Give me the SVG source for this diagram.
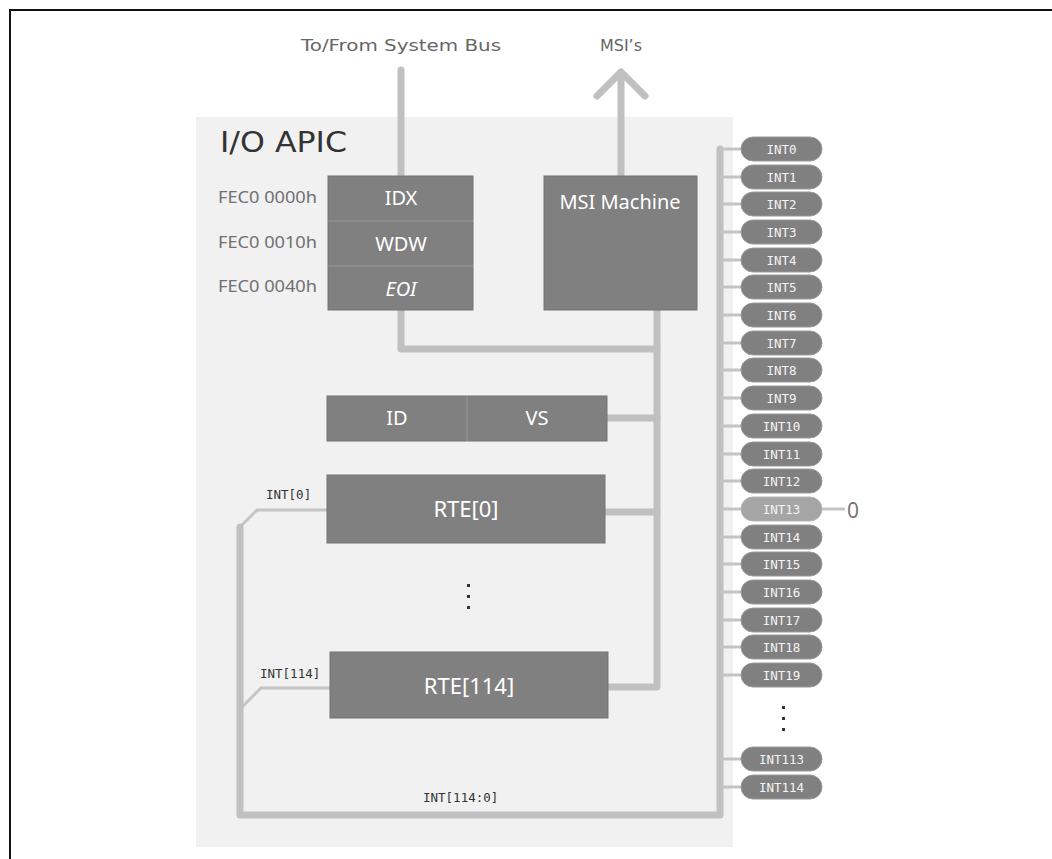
<svg xmlns="http://www.w3.org/2000/svg" width="1052" height="859" viewBox="0 0 1052 859">
<style>
.box{fill:#808080;stroke:#747474;stroke-width:1}
.bt{font-family:"Noto Sans",sans-serif;fill:#ffffff;text-anchor:middle;dominant-baseline:central}
.bus{fill:none;stroke:#c0c0c0;stroke-width:7;stroke-linecap:round;stroke-linejoin:round}
.thin{fill:none;stroke:#c4c4c4;stroke-width:3}
.pill{fill:#808080;stroke:#9a9a9a;stroke-width:1}
.pt{font-family:"DejaVu Sans Mono",monospace;font-size:12.5px;fill:#f4f4f4;text-anchor:middle;dominant-baseline:central}
.addr{font-family:"Noto Sans",sans-serif;font-size:16px;fill:#707070;text-anchor:end;dominant-baseline:central}
.sig{font-family:"DejaVu Sans Mono",monospace;font-size:12.5px;fill:#333}
.dot{fill:#333}
</style>
<rect x="10" y="10" width="1050" height="860" fill="#ffffff" stroke="#111" stroke-width="2"/>
<rect x="196" y="117" width="537" height="730" fill="#f1f1f1"/>
<text x="220" y="152" font-family="DejaVu Sans,sans-serif" font-size="28" fill="#333" textLength="127" lengthAdjust="spacingAndGlyphs">I/O APIC</text>
<text x="401" y="51" font-family="DejaVu Sans,sans-serif" font-size="16" fill="#666" text-anchor="middle" textLength="200" lengthAdjust="spacingAndGlyphs">To/From System Bus</text>
<text x="621" y="51" font-family="DejaVu Sans,sans-serif" font-size="16" fill="#666" text-anchor="middle">MSI’s</text>
<g id="connectors">
<path class="bus" d="M401,70 V176"/>
<path class="bus" d="M621,176 V72 M597,96 L621,72 L645,96"/>
<path class="bus" d="M401,310 V349 H657"/>
<path class="bus" d="M657,310 V687 H608"/>
<path class="bus" d="M607,418 H657"/>
<path class="bus" d="M605,512 H657"/>
<path class="thin" d="M327,510 H257 L240,527"/>
<path class="thin" d="M330,688 H261 L242,707"/>
<path class="bus" d="M240,527 V815 H720 V149"/>
<path class="thin" d="M720,149 H741 M720,177 H741 M720,204 H741 M720,232 H741 M720,260 H741 M720,287 H741 M720,315 H741 M720,343 H741 M720,370 H741 M720,398 H741 M720,426 H741 M720,454 H741 M720,481 H741 M720,509 H741 M720,537 H741 M720,564 H741 M720,592 H741 M720,620 H741 M720,647 H741 M720,675 H741 M720,759 H741 M720,787 H741"/>
<path class="thin" d="M822,509 H845"/>
</g>
<g id="reg-block">
<rect class="box" x="328" y="176" width="145" height="134"/>
<line x1="328" y1="221" x2="473" y2="221" stroke="#999" stroke-width="1"/>
<line x1="328" y1="266" x2="473" y2="266" stroke="#999" stroke-width="1"/>
<text class="bt" x="401" y="197" font-size="20">IDX</text>
<text class="bt" x="401" y="243" font-size="20">WDW</text>
<text class="bt" x="401" y="288" font-size="20" font-style="italic">EOI</text>
<text class="addr" x="317" y="197" textLength="99" lengthAdjust="spacingAndGlyphs">FEC0 0000h</text>
<text class="addr" x="317" y="242" textLength="99" lengthAdjust="spacingAndGlyphs">FEC0 0010h</text>
<text class="addr" x="317" y="286" textLength="99" lengthAdjust="spacingAndGlyphs">FEC0 0040h</text>
</g>
<g id="msi-machine">
<rect class="box" x="544" y="176" width="153" height="134"/>
<text class="bt" x="620" y="201" font-size="20">MSI Machine</text>
</g>
<g id="id-vs">
<rect class="box" x="327" y="396" width="280" height="45"/>
<line x1="467" y1="396" x2="467" y2="441" stroke="#999" stroke-width="1"/>
<text class="bt" x="397" y="417" font-size="20">ID</text>
<text class="bt" x="537" y="417" font-size="20">VS</text>
</g>
<g id="rte0">
<rect class="box" x="327" y="475" width="278" height="68"/>
<text class="bt" x="466" y="508" font-size="22">RTE[0]</text>
<text class="sig" x="266" y="499">INT[0]</text>
</g>
<g id="rte-dots">
<rect class="dot" x="467" y="584" width="3" height="3"/>
<rect class="dot" x="467" y="595" width="3" height="3"/>
<rect class="dot" x="467" y="606" width="3" height="3"/>
</g>
<g id="rte114">
<rect class="box" x="330" y="652" width="278" height="66"/>
<text class="bt" x="469" y="685" font-size="22">RTE[114]</text>
<text class="sig" x="260" y="678">INT[114]</text>
</g>
<text class="sig" x="423" y="802">INT[114:0]</text>
<g id="pins">
<g id="int0"><rect class="pill" x="741" y="137" width="81" height="24" rx="12"/><text class="pt" x="781.5" y="149">INT0</text></g>
<g id="int1"><rect class="pill" x="741" y="165" width="81" height="24" rx="12"/><text class="pt" x="781.5" y="177">INT1</text></g>
<g id="int2"><rect class="pill" x="741" y="192" width="81" height="24" rx="12"/><text class="pt" x="781.5" y="204">INT2</text></g>
<g id="int3"><rect class="pill" x="741" y="220" width="81" height="24" rx="12"/><text class="pt" x="781.5" y="232">INT3</text></g>
<g id="int4"><rect class="pill" x="741" y="248" width="81" height="24" rx="12"/><text class="pt" x="781.5" y="260">INT4</text></g>
<g id="int5"><rect class="pill" x="741" y="275" width="81" height="24" rx="12"/><text class="pt" x="781.5" y="287">INT5</text></g>
<g id="int6"><rect class="pill" x="741" y="303" width="81" height="24" rx="12"/><text class="pt" x="781.5" y="315">INT6</text></g>
<g id="int7"><rect class="pill" x="741" y="331" width="81" height="24" rx="12"/><text class="pt" x="781.5" y="343">INT7</text></g>
<g id="int8"><rect class="pill" x="741" y="358" width="81" height="24" rx="12"/><text class="pt" x="781.5" y="370">INT8</text></g>
<g id="int9"><rect class="pill" x="741" y="386" width="81" height="24" rx="12"/><text class="pt" x="781.5" y="398">INT9</text></g>
<g id="int10"><rect class="pill" x="741" y="414" width="81" height="24" rx="12"/><text class="pt" x="781.5" y="426">INT10</text></g>
<g id="int11"><rect class="pill" x="741" y="442" width="81" height="24" rx="12"/><text class="pt" x="781.5" y="454">INT11</text></g>
<g id="int12"><rect class="pill" x="741" y="469" width="81" height="24" rx="12"/><text class="pt" x="781.5" y="481">INT12</text></g>
<g id="int13"><rect x="741" y="497" width="81" height="24" rx="12" fill="#a5a5a5" stroke="#b5b5b5"/><text class="pt" x="781.5" y="509">INT13</text><text x="847" y="510" font-family="Noto Sans,sans-serif" font-size="21" fill="#777" dominant-baseline="central">0</text></g>
<g id="int14"><rect class="pill" x="741" y="525" width="81" height="24" rx="12"/><text class="pt" x="781.5" y="537">INT14</text></g>
<g id="int15"><rect class="pill" x="741" y="552" width="81" height="24" rx="12"/><text class="pt" x="781.5" y="564">INT15</text></g>
<g id="int16"><rect class="pill" x="741" y="580" width="81" height="24" rx="12"/><text class="pt" x="781.5" y="592">INT16</text></g>
<g id="int17"><rect class="pill" x="741" y="608" width="81" height="24" rx="12"/><text class="pt" x="781.5" y="620">INT17</text></g>
<g id="int18"><rect class="pill" x="741" y="635" width="81" height="24" rx="12"/><text class="pt" x="781.5" y="647">INT18</text></g>
<g id="int19"><rect class="pill" x="741" y="663" width="81" height="24" rx="12"/><text class="pt" x="781.5" y="675">INT19</text></g>
<g id="int-dots"><rect class="dot" x="782" y="706" width="3" height="3"/><rect class="dot" x="782" y="717" width="3" height="3"/><rect class="dot" x="782" y="728" width="3" height="3"/></g>
<g id="int113"><rect class="pill" x="741" y="747" width="81" height="24" rx="12"/><text class="pt" x="781.5" y="759">INT113</text></g>
<g id="int114"><rect class="pill" x="741" y="775" width="81" height="24" rx="12"/><text class="pt" x="781.5" y="787">INT114</text></g>
</g>
</svg>
